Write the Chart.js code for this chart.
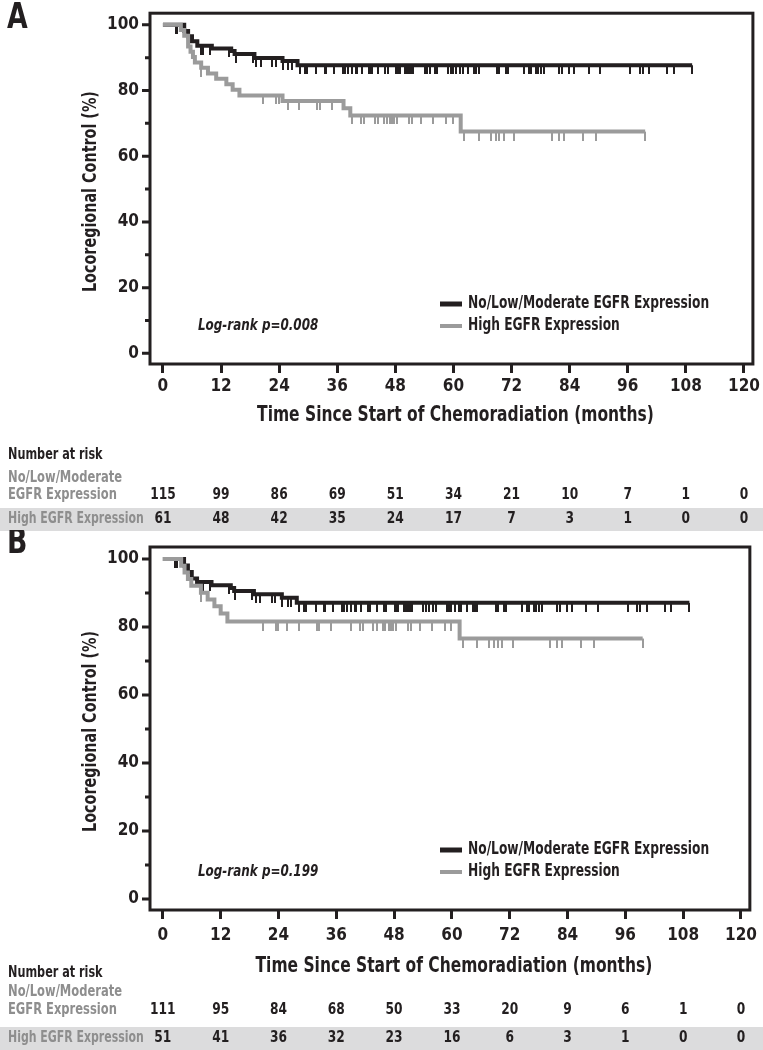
<!DOCTYPE html>
<html>
<head>
<meta charset="utf-8">
<script src="https://cdn.jsdelivr.net/npm/chart.js@4.4.1/dist/chart.umd.min.js"></script>
<style>
  body { margin:0; background:#fff; width:763px; height:1050px; overflow:hidden; position:relative; }
  canvas { position:absolute; left:0; }
</style>
</head>
<body>
<canvas id="chartA" width="763" height="535" style="top:0"></canvas>
<canvas id="chartB" width="763" height="520" style="top:530px"></canvas>
<script>
// axis ticks
const xTicks = [0, 12, 24, 36, 48, 60, 72, 84, 96, 108, 120];
const yMajorTicks = [0, 20, 40, 60, 80, 100];
const yMinorTicks = [10, 30, 50, 70, 90];
const groupNames = ['No/Low/Moderate EGFR Expression', 'High EGFR Expression'];

// Panel A - KM steps (months, % control)
const aLowTimes  = [0, 4.4, 5.2, 6.0, 7.1, 10.1, 14.1, 14.8, 18.9, 24.7, 27.8, 109.3];
const aLowSurv   = [100, 98.1, 96.5, 95.0, 93.6, 92.8, 92.0, 91.1, 89.9, 89.0, 87.7, 87.7];
const aHighTimes = [0, 3.7, 4.4, 5.2, 5.7, 6.2, 6.6, 7.9, 9.3, 11.0, 13.1, 14.4, 15.8, 24.7, 37.3, 38.7, 61.5, 99.6];
const aHighSurv  = [100, 98.4, 96.7, 93.4, 91.8, 90.2, 88.5, 86.9, 85.2, 83.6, 81.9, 80.2, 78.5, 76.8, 74.6, 72.4, 67.5, 67.5];
const aRiskLow   = [115, 99, 86, 69, 51, 34, 21, 10, 7, 1, 0];
const aRiskHigh  = [61, 48, 42, 35, 24, 17, 7, 3, 1, 0, 0];

// Panel B
const bLowTimes  = [0, 4.4, 5.2, 6.0, 7.1, 10.1, 14.1, 14.8, 18.9, 24.7, 27.8, 109.3];
const bLowSurv   = [100, 98.1, 96.2, 94.3, 93.2, 92.3, 91.5, 90.6, 89.6, 88.6, 87.1, 87.1];
const bHighTimes = [0, 3.8, 4.5, 5.2, 5.9, 7.9, 9.3, 10.7, 12.0, 13.4, 61.6, 99.6];
const bHighSurv  = [100, 98.0, 96.0, 94.1, 92.1, 90.1, 88.1, 86.1, 84.0, 81.6, 76.6, 76.6];
const bRiskLow   = [111, 95, 84, 68, 50, 33, 20, 9, 6, 1, 0];
const bRiskHigh  = [51, 41, 36, 32, 23, 16, 6, 3, 1, 0, 0];

// censored times (months), same pattern in both panels
const lowCensor = [2.6, 2.9, 7.9, 8.3, 9.8, 13.7, 15.0, 18.5, 19.3, 20.2, 22.6, 23.3, 24.8, 25.9, 26.6,
  28.3, 29.3, 29.7, 31.7, 33.4, 33.7, 35.3, 37.1, 37.7, 38.2, 39.0, 39.9, 40.1, 41.2, 42.5, 42.8, 43.1,
  44.4, 45.9, 46.4, 48.1, 48.5, 48.9, 50.0, 50.5, 50.8, 51.2, 51.7, 54.1, 54.6, 55.2, 56.1, 56.7, 58.9,
  59.4, 59.9, 60.6, 61.4, 61.9, 63.1, 64.3, 64.7, 65.2, 69.1, 69.5, 70.9, 71.3, 74.6, 75.6, 76.1, 77.0,
  77.5, 78.0, 78.7, 81.8, 82.5, 83.8, 85.0, 87.9, 90.3, 96.5, 98.5, 99.1, 100.4, 104.2, 105.5, 109.3];
const highCensor = [7.9, 20.7, 23.4, 23.9, 25.8, 28.2, 31.9, 32.4, 34.9, 39.0, 41.0, 41.6, 43.7, 44.4,
  45.7, 46.2, 46.9, 47.4, 47.8, 48.3, 50.9, 51.5, 53.4, 55.8, 58.5, 59.9, 62.2, 65.2, 67.8, 68.8, 69.5,
  70.5, 72.6, 80.4, 81.8, 82.9, 86.8, 89.5, 99.6];

const INK = '#231f20', GREY = '#9b9b9b', LABEL_GREY = '#8e8e8e', BAND = '#dcdcdd';
const F = "'Liberation Sans Narrow','DejaVu Sans Condensed','Roboto Condensed',sans-serif";
Chart.defaults.font.family = F;

function survAt(times, surv, t) {
  let v = surv[0];
  for (let i = 0; i < times.length; i++) if (times[i] <= t) v = surv[i];
  return v;
}

// hanging censor tick as point image
function tickImg(color) {
  const c = document.createElement('canvas');
  c.width = 2; c.height = 18;
  const g = c.getContext('2d');
  g.fillStyle = color; g.fillRect(0, 9, 2, 9);
  return c;
}

// condensed text (squeezed horizontally)
function txt(ctx, s, x, y, font, sx, align, rot) {
  ctx.save();
  ctx.font = font; ctx.textAlign = align || 'left'; ctx.textBaseline = 'middle';
  ctx.translate(x, y);
  if (rot) ctx.rotate(rot);
  ctx.scale(sx, 1);
  ctx.fillText(s, 0, 0);
  ctx.restore();
}

function makeKM(id, p) {
  const frame = {
    id: 'frame',
    afterDraw(chart) {
      const {ctx, chartArea: ca, scales: {x, y}} = chart;
      ctx.save();
      ctx.strokeStyle = INK; ctx.lineWidth = 3;
      ctx.strokeRect(ca.left, ca.top, ca.right - ca.left, ca.bottom - ca.top);
      ctx.beginPath();
      yMajorTicks.forEach(v => { const py = y.getPixelForValue(v); ctx.moveTo(ca.left - 8, py); ctx.lineTo(ca.left, py); });
      yMinorTicks.forEach(v => { const py = y.getPixelForValue(v); ctx.moveTo(ca.left - 5, py); ctx.lineTo(ca.left, py); });
      ctx.stroke();

      ctx.fillStyle = INK;
      txt(ctx, p.letter, 7, p.letterY, `bold 35px ${F}`, 0.85);

      // axis titles
      txt(ctx, 'Time Since Start of Chemoradiation (months)', (ca.left + ca.right) / 2 + 4, p.xTitleY,
          `bold 21px ${F}`, 0.82, 'center');
      txt(ctx, 'Locoregional Control (%)', 91, (ca.top + ca.bottom) / 2 + 3,
          `bold 19px ${F}`, 0.84, 'center', -Math.PI / 2);

      // legend
      const ly1 = ca.bottom - 60, ly2 = ca.bottom - 38;
      ctx.lineWidth = 5; ctx.strokeStyle = INK;
      ctx.beginPath(); ctx.moveTo(440, ly1); ctx.lineTo(462, ly1); ctx.stroke();
      ctx.lineWidth = 4; ctx.strokeStyle = GREY;
      ctx.beginPath(); ctx.moveTo(440, ly2); ctx.lineTo(462, ly2); ctx.stroke();
      txt(ctx, groupNames[0], 468, ly1, `bold 17px ${F}`, 0.8);
      txt(ctx, groupNames[1], 468, ly2, `bold 17px ${F}`, 0.8);
      txt(ctx, p.pText, 198, ly2, `italic bold 16px ${F}`, 0.83);

      // number at risk
      const rf = `bold 16px ${F}`;
      txt(ctx, 'Number at risk', 8, p.narY, rf, 0.78);
      ctx.fillStyle = BAND;
      ctx.fillRect(0, p.bandTop, chart.width, p.bandH);
      ctx.fillStyle = LABEL_GREY;
      txt(ctx, 'No/Low/Moderate', 8, p.row1aY, rf, 0.8);
      txt(ctx, 'EGFR Expression', 8, p.row1bY, rf, 0.8);
      txt(ctx, groupNames[1], 8, p.row2Y, rf, 0.76);
      ctx.fillStyle = INK;
      xTicks.forEach((t, i) => {
        const px = x.getPixelForValue(t);
        txt(ctx, String(p.riskLow[i]), px, p.row1bY, rf, 0.85, 'center');
        txt(ctx, String(p.riskHigh[i]), px, p.row2Y, rf, 0.85, 'center');
      });
      ctx.restore();
    }
  };

  const toPts = (ts, vs) => ts.map((t, i) => ({x: t, y: vs[i]}));
  const cens = (list, ts, vs) => list.map(t => ({x: t, y: survAt(ts, vs, t)}));

  // first dataset is drawn on top: grey curve over black, as in the figure
  return new Chart(document.getElementById(id), {
    type: 'line',
    data: {
      datasets: [
        { label: 'high censor', data: cens(highCensor, p.highT, p.highS), showLine: false,
          pointStyle: tickImg(GREY), pointRadius: 4, pointHoverRadius: 4 },
        { label: groupNames[1], data: toPts(p.highT, p.highS), stepped: true, borderColor: GREY,
          borderWidth: 4, pointRadius: 0, fill: false, borderCapStyle: 'butt' },
        { label: 'low censor', data: cens(lowCensor, p.lowT, p.lowS), showLine: false,
          pointStyle: tickImg(INK), pointRadius: 4, pointHoverRadius: 4 },
        { label: groupNames[0], data: toPts(p.lowT, p.lowS), stepped: true, borderColor: INK,
          borderWidth: 4, pointRadius: 0, fill: false, borderCapStyle: 'butt' }
      ]
    },
    options: {
      responsive: false, animation: false, events: [],
      layout: { padding: { top: p.top, right: 6, left: 0, bottom: 0 } },
      plugins: { legend: { display: false }, tooltip: { enabled: false } },
      scales: {
        x: {
          type: 'linear', min: -2.67, max: 121.85,
          afterBuildTicks: s => { s.ticks = xTicks.map(v => ({value: v})); },
          afterFit: s => { s.height = p.xAxisH; },
          grid: { drawOnChartArea: false, drawTicks: true, tickLength: 9, tickWidth: 3, tickColor: INK },
          border: { display: false },
          ticks: { color: INK, font: { size: 17, weight: 'bold' }, padding: p.xTickPad, maxRotation: 0, autoSkip: false }
        },
        y: {
          type: 'linear', min: -3.24, max: 103.53,
          afterBuildTicks: s => { s.ticks = yMajorTicks.map(v => ({value: v})); },
          afterFit: s => { s.width = 150; },
          grid: { display: false, drawTicks: true, tickLength: 8 },
          border: { display: false },
          ticks: { color: INK, font: { size: 17, weight: 'bold' }, padding: 3 }
        }
      }
    },
    plugins: [frame]
  });
}

makeKM('chartA', {
  letter: 'A', letterY: 19, top: 1, xAxisH: 171, xTickPad: 3, xTitleY: 416,
  lowT: aLowTimes, lowS: aLowSurv, highT: aHighTimes, highS: aHighSurv,
  riskLow: aRiskLow, riskHigh: aRiskHigh, pText: 'Log-rank p=0.008',
  narY: 455, row1aY: 478, row1bY: 495, bandTop: 508, bandH: 23, row2Y: 519
});
makeKM('chartB', {
  letter: 'B', letterY: 14, top: 17, xAxisH: 140, xTickPad: 6, xTitleY: 437,
  lowT: bLowTimes, lowS: bLowSurv, highT: bHighTimes, highS: bHighSurv,
  riskLow: bRiskLow, riskHigh: bRiskHigh, pText: 'Log-rank p=0.199',
  narY: 443, row1aY: 462, row1bY: 480, bandTop: 497, bandH: 23, row2Y: 508
});
</script>
</body>
</html>
